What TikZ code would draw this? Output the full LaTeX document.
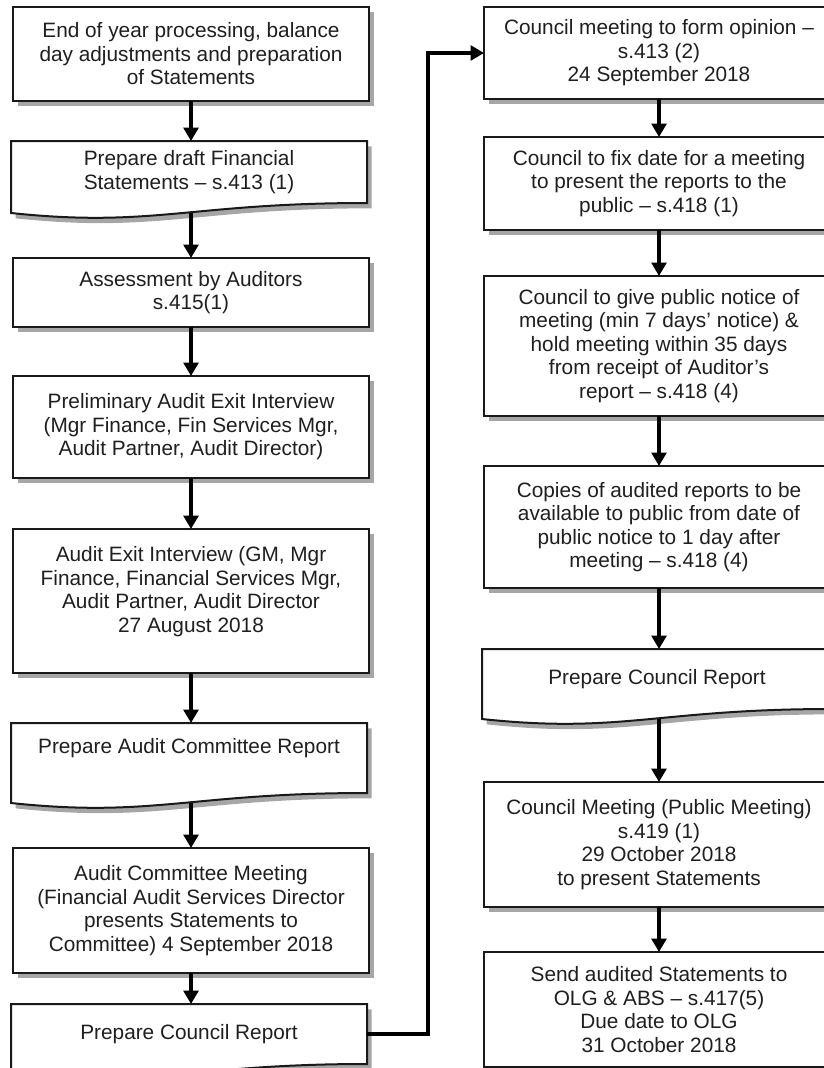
\documentclass[tikz,border=0pt]{standalone}
\usepackage{fontspec}
\setmainfont{Liberation Sans}
\usetikzlibrary{arrows.meta,shadows,calc,backgrounds}
\tikzset{
  txt/.style={align=center, inner sep=0pt, outer sep=0pt, font=\fontsize{15.6}{17.6}\selectfont, text=black!88},
  shad/.style={drop shadow={shadow xshift=3.5pt, shadow yshift=-4pt, opacity=0.35, fill=black}},
  box/.style={txt, draw=black!90, line width=1.5pt, fill=white, shad},
  lbox/.style={box, minimum width=267pt},
  rbox/.style={box, minimum width=262.5pt},
  ldoc/.style={txt, minimum width=267pt},
  rdoc/.style={txt, minimum width=262.5pt},
  docline/.style={draw=black!90, line width=1.5pt, fill=white, shad},
  arr/.style={draw=black, line width=2.6pt, -{Triangle[length=10pt,width=11pt]}}
}
\newcommand{\docshape}[1]{%
  \begin{pgfonlayer}{background}
  \path[docline] (#1.north west) -- (#1.north east) -- (#1.south east)
    .. controls ($(#1.south east)!0.5!(#1.south west)$) and ($(#1.south west)!0.4!(#1.south east)+(0,25)$) ..
    ($(#1.south west)+(0,10)$) -- cycle;
  \end{pgfonlayer}}
\begin{document}
\begin{tikzpicture}[x=0.75pt, y=-0.75pt]
\useasboundingbox (0,0) rectangle (824,1068);
\clip (0,0) rectangle (824,1068);

% left column
\node[lbox, minimum height=70.5pt] (L1) at (191,54) {End of year processing, balance\\day adjustments and preparation\\of Statements};
\node[ldoc, minimum height=46.5pt] (L2) at (189,172) {Prepare draft Financial\\Statements -- s.413 (1)};
\docshape{L2}
\node[lbox, minimum height=51.75pt] (L3) at (191,292.5) {Assessment by Auditors\\s.415(1)};
\node[lbox, minimum height=76.5pt] (L4) at (191,427) {Preliminary Audit Exit Interview\\(Mgr Finance, Fin Services Mgr,\\Audit Partner, Audit Director)};
\node[lbox, minimum height=108pt] (L5) at (191,601) {Audit Exit Interview (GM, Mgr\\Finance, Financial Services Mgr,\\Audit Partner, Audit Director\\27 August 2018\\\mbox{}};
\node[ldoc, minimum height=52.5pt] (L6) at (189,758) {Prepare Audit Committee Report\\\mbox{}};
\docshape{L6}
\node[lbox, minimum height=93.75pt] (L7) at (191,910.5) {Audit Committee Meeting\\(Financial Audit Services Director\\presents Statements to\\Committee) 4 September 2018};
\node[ldoc, minimum height=45pt] (L8) at (189,1034) {Prepare Council Report};
\docshape{L8}

% right column
\node[rbox, minimum height=69pt] (R1) at (659,53) {Council meeting to form opinion --\\s.413 (2)\\24 September 2018};
\node[rbox, minimum height=69.75pt] (R2) at (659,183.5) {Council to fix date for a meeting\\to present the reports to the\\public -- s.418 (1)};
\node[rbox, minimum height=105pt] (R3) at (659,346) {Council to give public notice of\\meeting (min 7 days’ notice) \&\\hold meeting within 35 days\\from receipt of Auditor’s\\report -- s.418 (4)};
\node[rbox, minimum height=91.5pt] (R4) at (659,527) {Copies of audited reports to be\\available to public from date of\\public notice to 1 day after\\meeting -- s.418 (4)};
\node[rdoc, minimum height=45pt] (R5) at (657,679) {Prepare Council Report};
\docshape{R5}
\node[rbox, minimum height=93.75pt] (R6) at (659,844.5) {Council Meeting (Public Meeting)\\s.419 (1)\\29 October 2018\\to present Statements};
\node[rbox, minimum height=86.25pt] (R7) at (659,1009.5) {Send audited Statements to\\OLG \& ABS -- s.417(5)\\Due date to OLG\\31 October 2018};

% connectors
\draw[arr] (L1.south -| L3.north) -- (L2.north -| L3.north);
\draw[arr] ($(L2.south -| L3.north)+(0,10)$) -- (L3.north);
\draw[arr] (L3.south) -- (L4.north);
\draw[arr] (L4.south) -- (L5.north);
\draw[arr] (L5.south) -- (L6.north -| L5.south);
\draw[arr] ($(L6.south -| L7.north)+(0,10)$) -- (L7.north);
\draw[arr] (L7.south) -- (L8.north -| L7.south);

\draw[arr] (R1.south) -- (R2.north);
\draw[arr] (R2.south) -- (R3.north);
\draw[arr] (R3.south) -- (R4.north);
\draw[arr] (R4.south) -- (R5.north -| R4.south);
\draw[arr] ($(R5.south -| R6.north)+(0,10)$) -- (R6.north);
\draw[arr] (R6.south) -- (R7.north);

\coordinate (turn) at (428,0);
\draw[arr] (L8.east) -- (L8.east -| turn) -- (turn |- R1.west) -- (R1.west);
\end{tikzpicture}
\end{document}
